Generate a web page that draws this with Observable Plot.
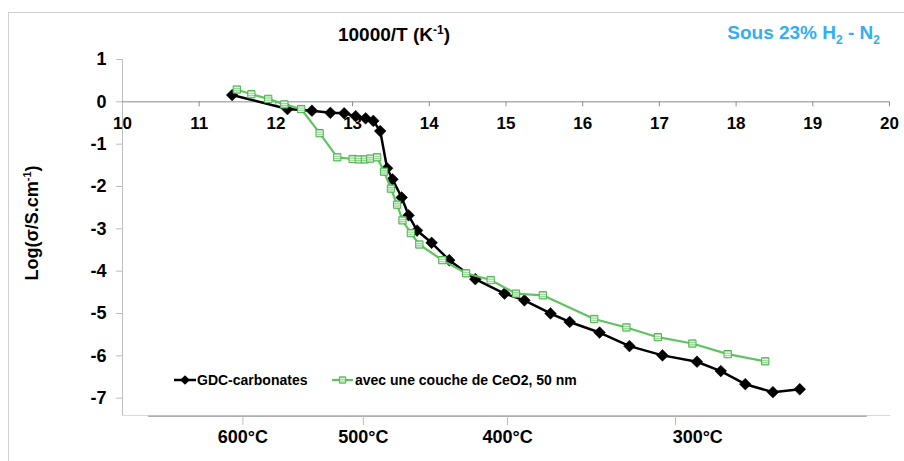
<!DOCTYPE html>
<html><head><meta charset="utf-8">
<script src="https://cdn.jsdelivr.net/npm/d3@7"></script>
<script src="https://cdn.jsdelivr.net/npm/@observablehq/plot@0.6"></script>
<style>
body{margin:0;background:#fff;}
#chart svg{display:block;}
</style>
</head><body><div id="chart"></div>
<script>
// ---- data (10000/T in K^-1, log conductivity) ----
const seriesNames = ["GDC-carbonates", "avec une couche de CeO2, 50 nm"];
const gdcX = [11.43, 12.15, 12.47, 12.71, 12.89, 13.04, 13.17, 13.27, 13.36, 13.45, 13.52, 13.64, 13.73, 13.84, 14.03, 14.26, 14.60, 14.98, 15.24, 15.58, 15.83, 16.22, 16.61, 17.04, 17.49, 17.80, 18.12, 18.48, 18.83];
const gdcY = [0.16, -0.17, -0.21, -0.26, -0.27, -0.34, -0.39, -0.45, -0.69, -1.57, -1.83, -2.26, -2.68, -3.04, -3.33, -3.74, -4.19, -4.53, -4.69, -5.00, -5.20, -5.45, -5.77, -5.99, -6.14, -6.36, -6.67, -6.86, -6.79];
const ceoX = [11.49, 11.68, 11.90, 12.11, 12.33, 12.57, 12.80, 13.00, 13.08, 13.16, 13.23, 13.32, 13.41, 13.50, 13.58, 13.65, 13.76, 13.87, 14.17, 14.48, 14.80, 15.13, 15.48, 16.15, 16.57, 16.98, 17.43, 17.89, 18.38];
const ceoY = [0.29, 0.18, 0.07, -0.06, -0.17, -0.74, -1.31, -1.35, -1.36, -1.36, -1.34, -1.31, -1.65, -2.05, -2.43, -2.80, -3.10, -3.37, -3.74, -4.05, -4.21, -4.53, -4.57, -5.13, -5.33, -5.56, -5.71, -5.96, -6.13];
const xTicks = [10, 11, 12, 13, 14, 15, 16, 17, 18, 19, 20];
const yTicks = [1, 0, -1, -2, -3, -4, -5, -6, -7];
const tempLabels = ["600°C", "500°C", "400°C", "300°C"];
const tempTickX = [11.57, 13.14, 15.02, 17.21];
const tempLabelX = [11.57, 13.14, 15.02, 17.50];

const gdc = gdcX.map((x, i) => ({x, y: gdcY[i]}));
const ceo = ceoX.map((x, i) => ({x, y: ceoY[i]}));

const FONT = "'Liberation Sans', Arial, Helvetica, sans-serif";
const yMin = -7.41, yMax = 1;
const axisGray = "#8c8c8c";
const lightGray = "#bdbdbd";
const greenLine = "#5fc35f";
const greenEdge = "#4cb34c";

const chart = Plot.plot({
  width: 904, height: 461,
  marginLeft: 122, marginRight: 15, marginTop: 59, marginBottom: 46,
  x: {domain: [10, 20], axis: null},
  y: {domain: [yMin, yMax], axis: null},
  style: {fontFamily: FONT, fontSize: "18px", background: "#fff", color: "#000"},
  marks: [
    Plot.frame({anchor: "bottom", stroke: "#d9d9d9"}),
    Plot.ruleX([10], {stroke: lightGray}),
    Plot.ruleY(yTicks, {x1: () => 10, x2: () => 10, insetLeft: -6, stroke: lightGray}),
    Plot.axisY({ticks: yTicks, tickSize: 0, tickPadding: 16, tickFormat: d => String(d),
      fontSize: 18, fontWeight: "bold", label: null}),
    Plot.ruleY([0], {stroke: axisGray}),
    Plot.ruleX(xTicks.slice(1), {y1: () => 0, y2: () => 0, insetBottom: -5, stroke: axisGray}),
    Plot.text(xTicks, {x: d => d, y: () => 0, dy: 22, text: d => String(d), fontSize: 17, fontWeight: "bold"}),
    // secondary temperature axis
    Plot.ruleY([yMin], {x1: () => 10.34, x2: () => 19.71, stroke: axisGray, dy: 0.7}),
    Plot.ruleX(tempTickX, {y1: () => yMin, y2: () => yMin, insetBottom: -10, stroke: lightGray}),
    Plot.text(tempLabels, {x: (d, i) => tempLabelX[i], y: () => yMin, dy: 22, text: d => d, fontSize: 18, fontWeight: "bold"}),
    // series
    Plot.line(gdc, {x: "x", y: "y", stroke: "#000", strokeWidth: 2.5}),
    Plot.dot(gdc, {x: "x", y: "y", symbol: "diamond2", r: 5.3, fill: "#000", stroke: "#000", strokeWidth: 0.5}),
    Plot.line(ceo, {x: "x", y: "y", stroke: greenLine, strokeWidth: 2.2}),
    Plot.dot(ceo, {x: "x", y: "y", symbol: "square", r: 4.1, fill: "url(#stripes)", stroke: greenEdge, strokeWidth: 1})
  ]
});

document.getElementById("chart").appendChild(chart);

const svg = d3.select(chart);
// stripe pattern for green markers
const defs = svg.insert("defs", ":first-child");
const pat = defs.append("pattern").attr("id", "stripes")
  .attr("patternUnits", "objectBoundingBox").attr("patternContentUnits", "objectBoundingBox")
  .attr("width", 1).attr("height", 0.3);
pat.append("rect").attr("width", 1).attr("height", 0.3).attr("fill", "#93d693");
pat.append("rect").attr("y", 0.17).attr("width", 1).attr("height", 0.12).attr("fill", "#ffffff");

// outer chart border
svg.append("rect").attr("x", 8.5).attr("y", 12.5).attr("width", 900).attr("height", 460)
  .attr("fill", "none").attr("stroke", "#d0d0d0");

// title
const t = svg.append("text").attr("x", 394).attr("y", 41).attr("text-anchor", "middle")
  .attr("font-family", FONT).attr("font-weight", "bold").attr("font-size", 19).attr("fill", "#000");
t.append("tspan").text("10000/T (K");
t.append("tspan").attr("font-size", 12).attr("dy", -7).text("-1");
t.append("tspan").attr("dy", 7).text(")");

// subtitle
const s = svg.append("text").attr("x", 880).attr("y", 39).attr("text-anchor", "end")
  .attr("font-family", FONT).attr("font-weight", "bold").attr("font-size", 19).attr("fill", "#33aef0");
s.append("tspan").text("Sous 23% H");
s.append("tspan").attr("font-size", 12).attr("dy", 5).text("2");
s.append("tspan").attr("dy", -5).text(" - N");
s.append("tspan").attr("font-size", 12).attr("dy", 5).text("2");

// y label
const yl = svg.append("text").attr("transform", "translate(38,223) rotate(-90)").attr("text-anchor", "middle")
  .attr("font-family", FONT).attr("font-weight", "bold").attr("font-size", 18).attr("fill", "#000");
yl.append("tspan").text("Log(σ/S.cm");
yl.append("tspan").attr("font-size", 11).attr("dy", -7).text("-1");
yl.append("tspan").attr("dy", 7).text(")");

// legend
const lg = svg.append("g").attr("font-family", FONT).attr("font-weight", "bold").attr("font-size", 14)
  .attr("text-anchor", "start").attr("fill", "#000");
lg.append("line").attr("x1", 174).attr("x2", 196).attr("y1", 380).attr("y2", 380).attr("stroke", "#000").attr("stroke-width", 2.5);
lg.append("path").attr("transform", "translate(185,380)").attr("d", d3.symbol(d3.symbolDiamond2, 60)()).attr("fill", "#000");
lg.append("text").attr("x", 197).attr("y", 385).attr("text-anchor", "start").text(seriesNames[0]);
lg.append("line").attr("x1", 332).attr("x2", 353).attr("y1", 380).attr("y2", 380).attr("stroke", greenLine).attr("stroke-width", 2.2);
lg.append("path").attr("transform", "translate(342.5,380)").attr("d", d3.symbol(d3.symbolSquare, 40)())
  .attr("fill", "url(#stripes)").attr("stroke", greenEdge);
lg.append("text").attr("x", 355).attr("y", 385).attr("text-anchor", "start").text(seriesNames[1]);
</script>
</body></html>
